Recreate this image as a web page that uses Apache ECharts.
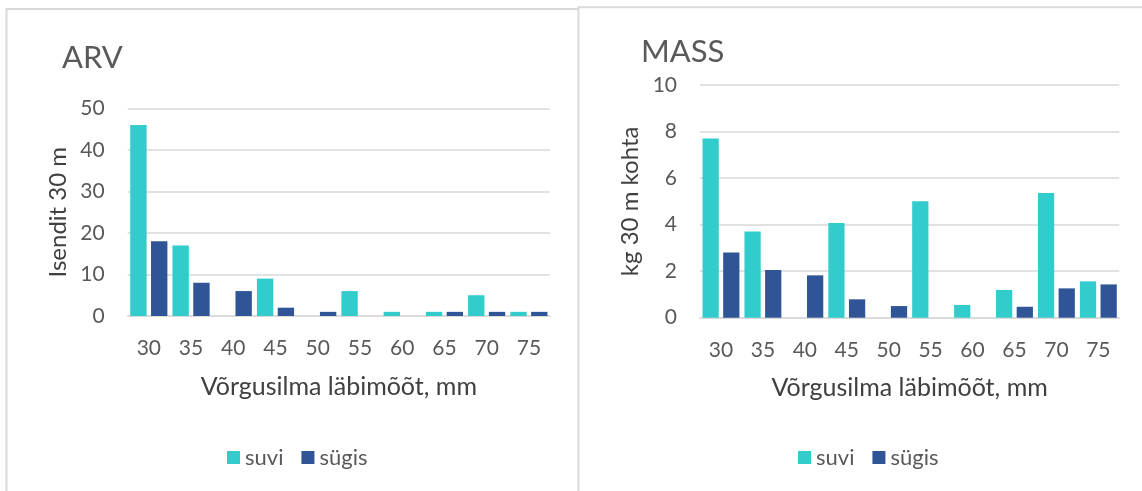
<!DOCTYPE html>
<html>
<head>
<meta charset="utf-8">
<script src="https://cdn.jsdelivr.net/npm/echarts@6/dist/echarts.min.js"></script>
<style>
  html, body { margin: 0; padding: 0; background: #ffffff; }
  #chart { width: 1142px; height: 491px; }
</style>
</head>
<body>
<div id="chart"></div>
<script>
// Mesh sizes of the gill nets (mm)
const meshSizes = ['30', '35', '40', '45', '50', '55', '60', '65', '70', '75'];
const seasonNames = ['suvi', 'sügis'];

// Catch per 30 m of net: number of fish
const countSummer = [46, 17, 0, 9, 0, 6, 1, 1, 5, 1];
const countAutumn = [18, 8, 6, 2, 1, 0, 0, 1, 1, 1];

// Catch per 30 m of net: mass in kg
const massSummer = [7.7, 3.7, 0, 4.07, 0, 5.0, 0.55, 1.19, 5.36, 1.56];
const massAutumn = [2.8, 2.05, 1.82, 0.79, 0.5, 0, 0, 0.47, 1.26, 1.43];

const FONT = 'Lato';
const TEXT = '#595959';
const NAME = '#404040';
const GRID = '#D9D9D9';
const SUMMER = '#33CCCC';
const AUTUMN = '#2F5597';

const chart = echarts.init(document.getElementById('chart'), null, { renderer: 'canvas' });

function xAxis(gridIndex) {
  return {
    type: 'category',
    gridIndex,
    data: meshSizes,
    name: 'Võrgusilma läbimõõt, mm',
    nameLocation: 'middle',
    nameGap: 58,
    nameTextStyle: { color: NAME, fontFamily: FONT, fontSize: 25, lineHeight: 25 },
    axisLine: { lineStyle: { color: GRID, width: 1.5 } },
    axisTick: { show: false },
    axisLabel: { color: TEXT, fontFamily: FONT, fontSize: 21, lineHeight: 21, margin: 22 },
    splitLine: { show: false }
  };
}

function yAxis(gridIndex, max, interval, name, gap) {
  return {
    type: 'value',
    gridIndex,
    min: 0,
    max,
    interval,
    name,
    nameLocation: 'middle',
    nameGap: gap,
    nameTextStyle: { color: NAME, fontFamily: FONT, fontSize: 24, lineHeight: 24 },
    axisLine: { show: false },
    axisTick: { show: false },
    axisLabel: { color: TEXT, fontFamily: FONT, fontSize: 21, margin: 23 },
    splitLine: { lineStyle: { color: GRID, width: 1.5 } }
  };
}

function bars(name, data, axisIndex, color) {
  return {
    type: 'bar',
    name,
    data,
    xAxisIndex: axisIndex,
    yAxisIndex: axisIndex,
    barCategoryGap: '12%',
    barGap: '27%',
    itemStyle: { color },
    emphasis: { disabled: true },
    animation: false
  };
}

function legend(left) {
  return {
    data: seasonNames,
    left,
    top: 446.5,
    padding: 0,
    itemWidth: 13,
    itemHeight: 13,
    itemGap: 18,
    icon: 'rect',
    selectedMode: false,
    textStyle: { color: TEXT, fontFamily: FONT, fontSize: 22, lineHeight: 22 }
  };
}

const frame = { stroke: GRID, lineWidth: 2 };

chart.setOption({
  backgroundColor: '#ffffff',
  color: [SUMMER, AUTUMN],
  title: [
    { text: 'ARV', left: 57, top: 37, textStyle: { color: TEXT, fontFamily: FONT, fontSize: 31, fontWeight: 'normal' } },
    { text: 'MASS', left: 636, top: 31, textStyle: { color: TEXT, fontFamily: FONT, fontSize: 31, fontWeight: 'normal' } }
  ],
  legend: [legend(227), legend(798)],
  grid: [
    { left: 127.7, right: 592, top: 108.3, bottom: 175 },
    { left: 700, right: 22.7, top: 85, bottom: 173.3 }
  ],
  xAxis: [xAxis(0), xAxis(1)],
  yAxis: [
    yAxis(0, 50, 10, 'Isendit 30 m', 57),
    yAxis(1, 10, 2, 'kg 30 m kohta', 58)
  ],
  series: [
    bars('suvi', countSummer, 0, SUMMER),
    bars('sügis', countAutumn, 0, AUTUMN),
    bars('suvi', massSummer, 1, SUMMER),
    bars('sügis', massAutumn, 1, AUTUMN)
  ],
  graphic: [
    { type: 'polyline', silent: true, shape: { points: [[6.5, 491], [6.5, 9], [578.5, 9]] }, style: Object.assign({ fill: null }, frame) },
    { type: 'polyline', silent: true, shape: { points: [[578.5, 491], [578.5, 7.3], [1142, 7.3]] }, style: Object.assign({ fill: null }, frame) }
  ]
});
</script>
</body>
</html>
